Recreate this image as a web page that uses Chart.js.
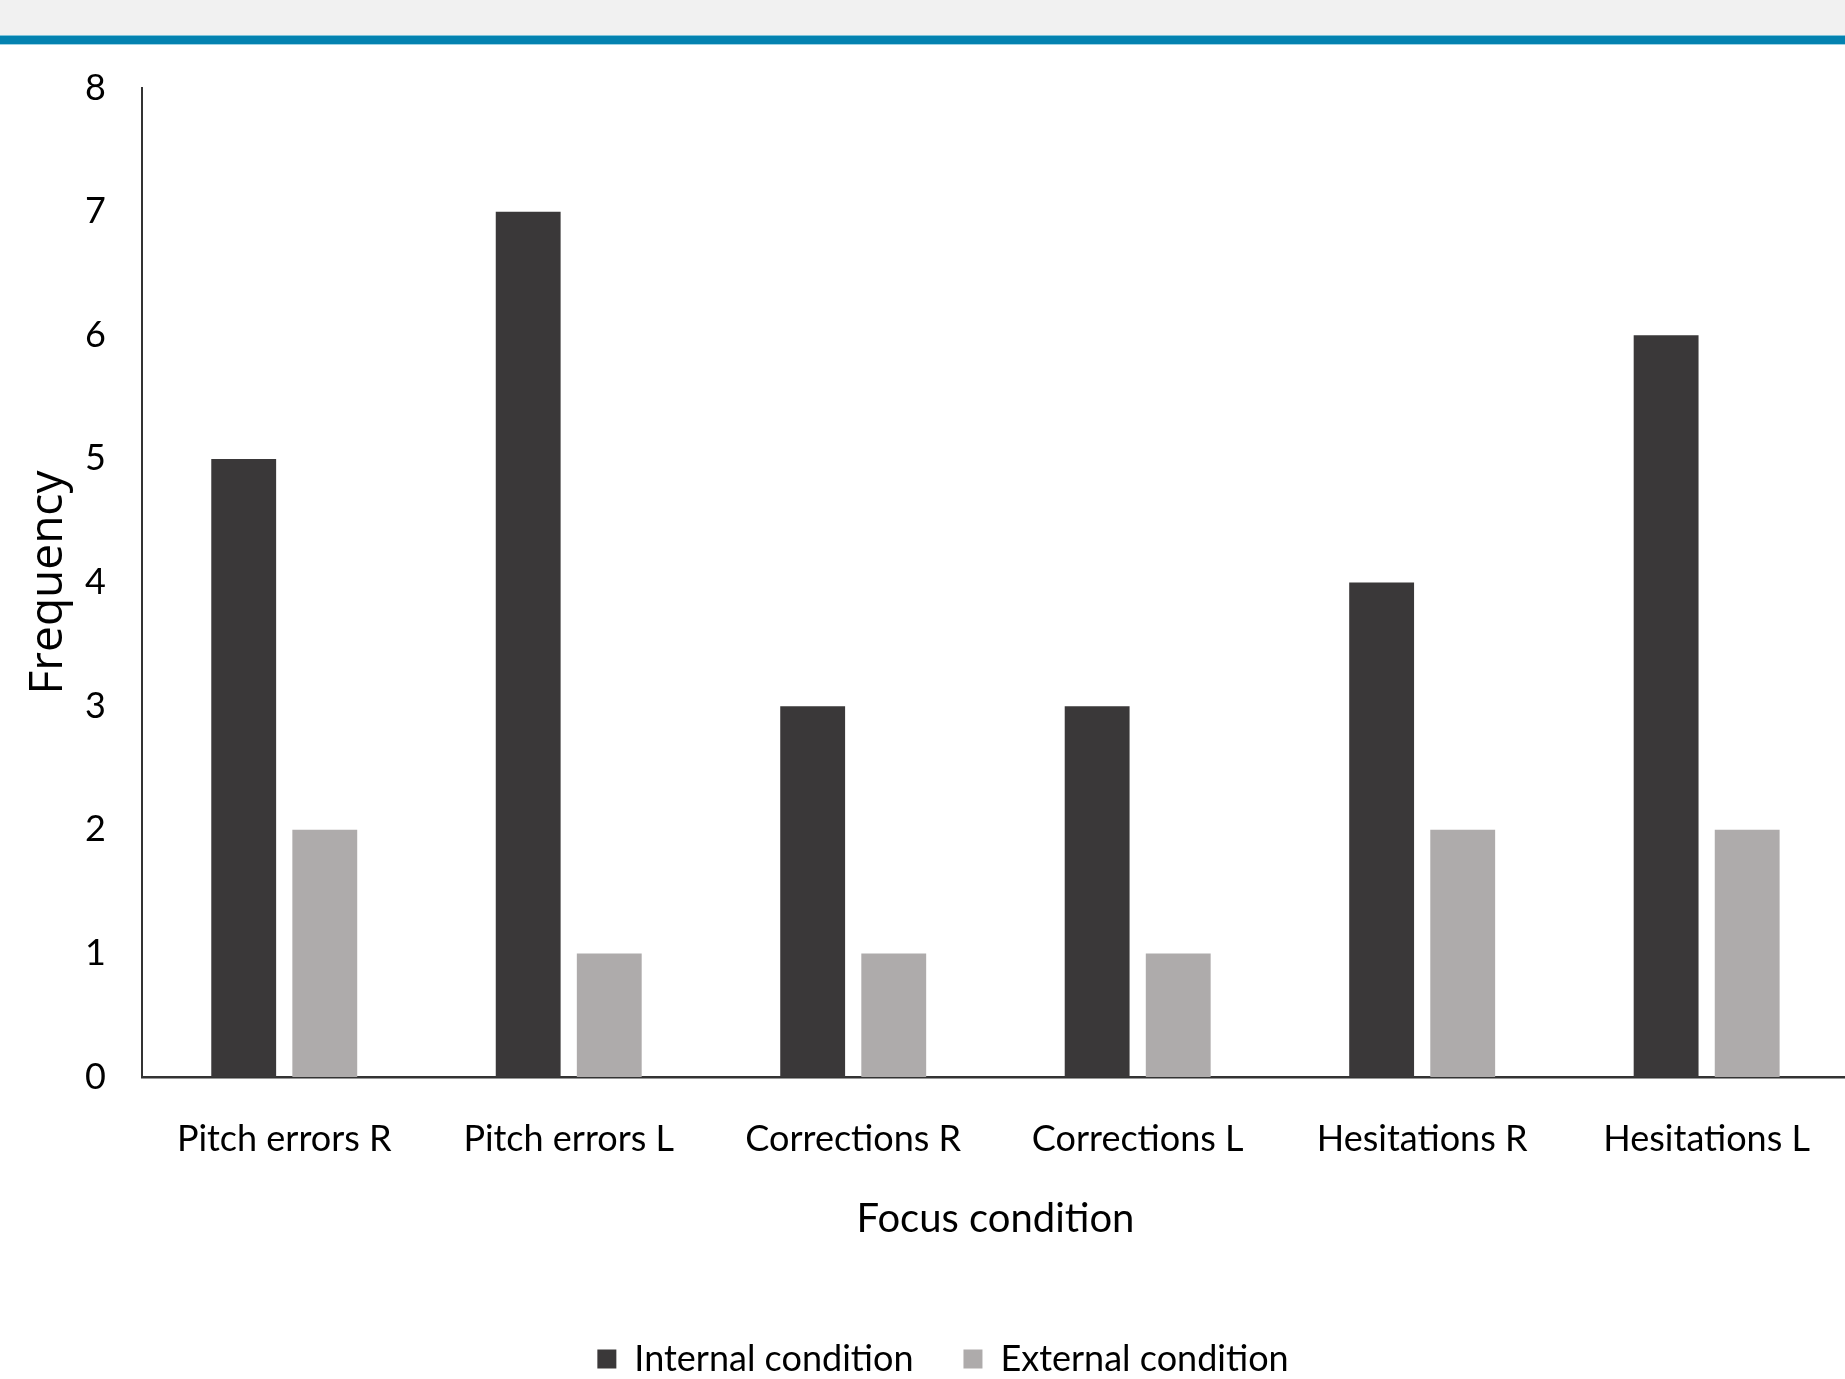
<!DOCTYPE html>
<html>
<head>
<meta charset="utf-8">
<script src="https://cdn.jsdelivr.net/npm/chart.js@4.4.1/dist/chart.umd.min.js"></script>
<style>
  html, body { margin: 0; padding: 0; background: #ffffff; }
  body { width: 1845px; height: 1379px; position: relative; overflow: hidden; }
  #band { position: absolute; left: 0; top: 0; width: 1845px; height: 36px; background: #f1f1f1; }
  #rule { position: absolute; left: 0; top: 36px; width: 1845px; height: 8px; background: #0482b0;
          box-shadow: 0 -1px 0 #7cc3da, 0 1px 0 #9ed2e3; }
  /* the plot runs slightly past the right edge of the page */
  #wrap { position: absolute; left: 0; top: 44px; width: 1851px; height: 1343px; }
</style>
</head>
<body>
<div id="band"></div>
<div id="rule"></div>
<div id="wrap"><canvas id="chart"></canvas></div>
<script>
const categories = ['Pitch errors R', 'Pitch errors L', 'Corrections R', 'Corrections L', 'Hesitations R', 'Hesitations L'];
const internalCondition = [5, 7, 3, 3, 4, 6];
const externalCondition = [2, 1, 1, 1, 2, 2];
const seriesNames = ['Internal condition', 'External condition'];
const yTicks = [0, 1, 2, 3, 4, 5, 6, 7, 8];

const textFont = 'Lato';

new Chart(document.getElementById('chart'), {
  type: 'bar',
  data: {
    labels: categories,
    datasets: [
      { label: seriesNames[0], data: internalCondition, backgroundColor: '#3a3839', borderWidth: 0 },
      { label: seriesNames[1], data: externalCondition, backgroundColor: '#aeabab', borderWidth: 0 }
    ]
  },
  options: {
    responsive: true,
    maintainAspectRatio: false,
    animation: false,
    devicePixelRatio: 1,
    categoryPercentage: 0.57,
    barPercentage: 0.8,
    layout: { padding: { top: 44, right: 0, bottom: 0, left: 35 } },
    plugins: {
      tooltip: { enabled: false },
      legend: {
        position: 'bottom',
        labels: {
          font: { family: textFont, size: 36 },
          color: '#000000',
          boxWidth: 19,
          boxHeight: 19,
          padding: 50,
          generateLabels(chart) {
            return chart.data.datasets.map((ds, i) => ({
              text: ds.label,
              fillStyle: ds.backgroundColor,
              strokeStyle: ds.backgroundColor,
              lineWidth: 0,
              datasetIndex: i,
              fontColor: '#000000'
            }));
          }
        }
      }
    },
    scales: {
      x: {
        grid: { display: false, drawTicks: false },
        border: { display: true, color: '#333333', width: 2.5 },
        ticks: {
          font: { family: textFont, size: 36 },
          color: '#000000',
          padding: 41,
          maxRotation: 0
        },
        title: {
          display: true,
          text: 'Focus condition',
          font: { family: textFont, size: 40 },
          color: '#000000',
          padding: { top: 0, bottom: 48 }
        },
        afterFit(scale) { scale.height = 214; }
      },
      y: {
        min: 0,
        max: 8,
        afterBuildTicks(scale) { scale.ticks = yTicks.map(v => ({ value: v })); },
        grid: { display: false, drawTicks: false },
        border: { display: true, color: '#333333', width: 2 },
        ticks: {
          font: { family: textFont, size: 36 },
          color: '#000000',
          padding: 36
        },
        title: {
          display: true,
          text: 'Frequency',
          font: { family: 'Open Sans', size: 46, weight: '500', lineHeight: 1 },
          color: '#000000',
          padding: { top: -9, bottom: 0 }
        },
        afterFit(scale) {
          scale.width = 107;
          scale.paddingTop = 0;
          scale.paddingBottom = 0;
        }
      }
    }
  }
});
</script>
</body>
</html>
